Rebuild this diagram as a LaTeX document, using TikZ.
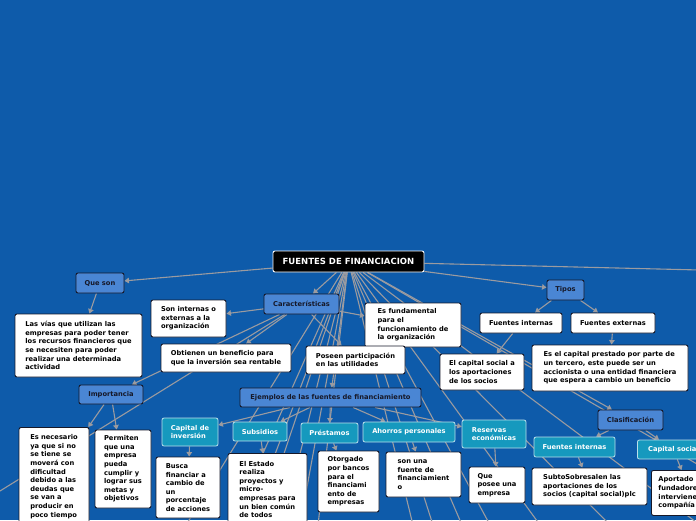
\documentclass[tikz,border=0pt]{standalone}
\usepackage{fontspec}
\setmainfont{DejaVu Sans}
\usetikzlibrary{arrows.meta,backgrounds}
\definecolor{fondo}{RGB}{14,91,170}
\definecolor{ramo}{RGB}{74,134,212}
\definecolor{hoja}{RGB}{22,153,190}
\definecolor{linea}{RGB}{155,155,160}
\definecolor{borde}{RGB}{22,24,40}
\colorlet{bordehoja}{hoja!30!white}
\tikzset{
  caja/.style={fill=white,draw=borde,line width=0.9pt,align=left},
  tema/.style={fill=ramo,draw=borde,line width=0.9pt,text=borde},
  hojita/.style={fill=hoja,draw=bordehoja,line width=0.8pt,text=white,align=left},
  link/.style={draw=linea,line width=1.1pt},
  flecha/.style={link,-{Triangle[length=4.5pt,width=5.5pt]}}
}

\begin{document}
\begin{tikzpicture}[x=1pt,y=-1pt,
  every node/.style={font=\fontsize{6.7}{8.6}\selectfont\bfseries,rounded corners=2pt,inner xsep=5pt,inner ysep=3pt}]
\useasboundingbox (0,0) rectangle (696,520);

\node[caja,fill=black,draw=white,text=white,font=\fontsize{8.5}{10}\selectfont\bfseries,minimum width=151,minimum height=21] (fuentes) at (348.5,261.5) {FUENTES DE FINANCIACION};

\node[tema,minimum width=48,minimum height=20] (queson) at (100,283) {Que son};
\node[caja,minimum width=127,minimum height=63] (vias) at (78.5,345.5) {Las vías que utilizan las\\empresas para poder tener\\los recursos financieros que\\se necesiten para poder\\realizar una determinada\\actividad};

\node[tema,minimum width=75,minimum height=20] (caract) at (301.5,304) {Características};
\node[caja,minimum width=75,minimum height=37] (internas) at (188.5,318.5) {Son internas o\\externas a la\\organización};
\node[caja,minimum width=130,minimum height=28] (beneficio) at (226,358) {Obtienen un beneficio para\\que la inversión sea rentable};
\node[caja,minimum width=96,minimum height=44] (fundamental) at (413,325) {Es fundamental\\para el\\funcionamiento de\\la organización};
\node[caja,minimum width=99,minimum height=28] (utilidades) at (355.5,360) {Poseen participación\\en las utilidades};

\node[tema,minimum width=37,minimum height=20] (tipos) at (565.5,290) {Tipos};
\node[caja,minimum width=82,minimum height=20] (fint) at (521,323) {Fuentes internas};
\node[caja,minimum width=84,minimum height=20] (fext) at (613,323) {Fuentes externas};
\node[caja,minimum width=84,minimum height=36] (aportes) at (482,372) {El capital social a\\los aportaciones\\de los socios};
\node[caja,minimum width=156,minimum height=46] (prestado) at (610,368) {Es el capital prestado por parte de\\un tercero, este puede ser un\\accionista o una entidad financiera\\que espera a cambio un beneficio};

\node[tema,minimum width=64,minimum height=19] (importancia) at (111,394.5) {Importancia};
\node[caja,minimum width=70,minimum height=98,anchor=north] (necesario) at (54,427) {Es necesario\\ya que si no\\se tiene se\\moverá con\\dificultad\\debido a las\\deudas que\\se van a\\producir en\\poco tiempo};
\node[caja,minimum width=56,minimum height=78] (permiten) at (123,469) {Permiten\\que una\\empresa\\pueda\\cumplir y\\lograr sus\\metas y\\objetivos};

\node[tema,minimum width=181,minimum height=19] (ejemplos) at (330.5,397.5) {Ejemplos de las fuentes de financiamiento};
\node[hojita,minimum width=56,minimum height=28] (capinv) at (190,432) {Capital de\\inversión};
\node[hojita,minimum width=54,minimum height=19] (subsidios) at (260,431.5) {Subsidios};
\node[hojita,minimum width=57,minimum height=20] (prestamos) at (329.5,433) {Préstamos};
\node[hojita,minimum width=92,minimum height=20] (ahorros) at (409,432) {Ahorros personales};
\node[hojita,minimum width=64,minimum height=28] (reservas) at (494,434) {Reservas\\económicas};
\node[caja,minimum width=64,minimum height=61] (busca) at (188,487.5) {Busca\\financiar a\\cambio de\\un\\porcentaje\\de acciones};
\node[caja,minimum width=79,minimum height=72,anchor=north] (estado) at (267.5,453) {El Estado\\realiza\\proyectos y\\micro-\\empresas para\\un bien común\\de todos};
\node[caja,minimum width=61,minimum height=61] (otorgado) at (348.5,481.5) {Otorgado\\por bancos\\para el\\financiami\\ento de\\empresas};
\node[caja,minimum width=75,minimum height=45] (fuente) at (423.5,474.5) {son una\\fuente de\\financiamient\\o};
\node[caja,minimum width=56,minimum height=36] (posee) at (497,485) {Que\\posee una\\empresa};

\node[tema,minimum width=65,minimum height=20] (clasif) at (630.5,420) {Clasificación};
\node[hojita,minimum width=81,minimum height=20] (fint2) at (574.5,447) {Fuentes internas};
\node[hojita,minimum width=72,minimum height=19,anchor=west] (capsoc) at (637,449.5) {Capital social};
\node[caja,minimum width=115,minimum height=37] (subto) at (589.5,486.5) {SubtoSobresalen las\\aportaciones de los\\socios (capital social)plc};
\node[caja,minimum width=20,minimum height=45,inner xsep=7pt,anchor=north west] (fundadores) at (651,470) {Aportado por los\\fundadores que\\intervienen en la\\compañía};

\coordinate (derecha) at (700,270);
\coordinate (izquierda) at (-50,522);

\begin{scope}[on background layer]
  \fill[fondo] (0,0) rectangle (696,520);
  \foreach \tx [count=\i] in {186,231,248,260,282,300,318,413,433,462,490,540,610,700,802}
    {\coordinate (bajo\i) at (\tx,525);
     \draw[link] (fuentes) -- (bajo\i);}
  \draw[link] (fuentes) -- (derecha);
  \draw[link] (caract) -- (izquierda);
  \draw[flecha] (fuentes) -- (queson);
  \draw[flecha] (queson) -- (vias);
  \draw[flecha] (fuentes) -- (caract);
  \draw[flecha] (caract) -- (internas);
  \draw[flecha] (caract) -- (beneficio);
  \draw[flecha] (caract) -- (fundamental);
  \draw[flecha] (caract) -- (utilidades);
  \draw[flecha] (caract) -- (importancia);
  \draw[flecha] (importancia) -- (necesario);
  \draw[flecha] (importancia) -- (permiten);
  \draw[flecha] (fuentes) -- (tipos);
  \draw[flecha] (tipos) -- (fint);
  \draw[flecha] (tipos) -- (fext);
  \draw[flecha] (fint) -- (aportes);
  \draw[flecha] (fext) -- (prestado);
  \draw[flecha] (fuentes) -- (ejemplos);
  \foreach \hijo in {capinv,subsidios,prestamos,ahorros,reservas}
    \draw[flecha] (ejemplos) -- (\hijo);
  \draw[flecha] (capinv) -- (busca);
  \draw[flecha] (subsidios) -- (estado);
  \draw[flecha] (prestamos) -- (otorgado);
  \draw[flecha] (ahorros) -- (fuente);
  \draw[flecha] (reservas) -- (posee);
  \draw[flecha] (fuentes) -- (clasif);
  \draw[flecha] (clasif) -- (fint2);
  \draw[flecha] (clasif) -- (capsoc);
  \draw[flecha] (fint2) -- (subto);
  \draw[flecha] (capsoc) -- (fundadores);
\end{scope}
\end{tikzpicture}
\end{document}
